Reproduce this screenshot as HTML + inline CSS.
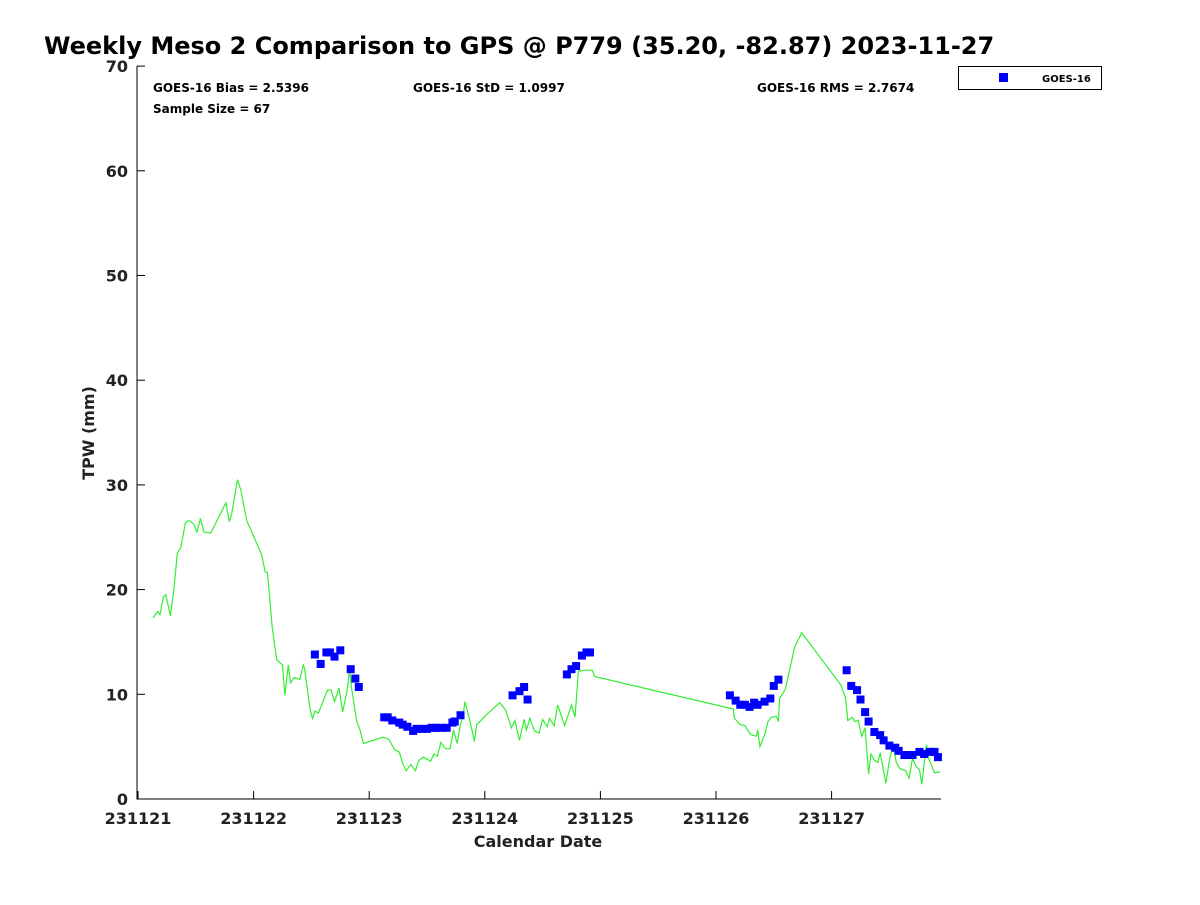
<!DOCTYPE html>
<html><head><meta charset="utf-8"><style>
body{margin:0;background:#fff;}
svg text{font-family:"DejaVu Sans","Liberation Sans",sans-serif;font-weight:bold;}
</style></head><body>
<svg id="chart" width="1200" height="900" xmlns="http://www.w3.org/2000/svg">
<rect width="1200" height="900" fill="#fff"/>
<text x="44" y="54" font-size="24" fill="#000">Weekly Meso 2 Comparison to GPS @ P779 (35.20, -82.87) 2023-11-27</text>
<g id="axes"></g>
<g id="series"></g>
<text x="153" y="92" font-size="12">GOES-16 Bias = 2.5396</text>
<text x="413" y="92" font-size="12">GOES-16 StD = 1.0997</text>
<text x="757" y="92" font-size="12">GOES-16 RMS = 2.7674</text>
<text x="153" y="113" font-size="12">Sample Size = 67</text>
<g>
<rect x="958.5" y="66.5" width="143" height="23" fill="#fff" stroke="#000" stroke-width="1"/>
<rect x="999" y="73" width="9" height="9" fill="#0000ff"/>
<text x="1042" y="82" font-size="10">GOES-16</text>
</g>
<text x="538" y="847" font-size="16" text-anchor="middle" fill="#222">Calendar Date</text>
<text transform="translate(94,433) rotate(-90)" font-size="16" text-anchor="middle" fill="#222">TPW (mm)</text>
</svg>
<script>
const xTickLabels=["231121","231122","231123","231124","231125","231126","231127"];
const yTickValues=[0,10,20,30,40,50,60,70];
const gpsDays=[0.13,0.17,0.19,0.22,0.24,0.28,0.31,0.34,0.37,0.41,0.44,0.48,0.51,0.54,0.57,0.63,0.67,0.76,0.79,0.81,0.86,0.89,0.94,1.07,1.10,1.12,1.16,1.20,1.22,1.25,1.27,1.30,1.32,1.35,1.40,1.43,1.44,1.49,1.51,1.53,1.56,1.60,1.64,1.67,1.70,1.74,1.77,1.81,1.83,1.85,1.89,1.92,1.95,2.12,2.17,2.22,2.26,2.29,2.32,2.36,2.40,2.43,2.47,2.50,2.53,2.56,2.59,2.62,2.66,2.70,2.73,2.76,2.79,2.81,2.83,2.87,2.91,2.93,3.01,3.13,3.18,3.23,3.26,3.30,3.34,3.36,3.39,3.43,3.47,3.50,3.54,3.56,3.60,3.63,3.67,3.69,3.75,3.78,3.81,3.86,3.93,3.95,5.15,5.16,5.21,5.25,5.29,5.31,5.35,5.36,5.38,5.42,5.45,5.48,5.52,5.54,5.55,5.60,5.68,5.73,5.74,6.08,6.12,6.14,6.18,6.20,6.23,6.26,6.29,6.32,6.34,6.37,6.40,6.42,6.47,6.50,6.53,6.56,6.59,6.64,6.67,6.70,6.73,6.76,6.78,6.82,6.84,6.89,6.94];
const gpsValues=[17.3,17.9,17.6,19.3,19.5,17.5,19.9,23.5,24.0,26.4,26.6,26.3,25.5,26.8,25.5,25.4,26.3,28.3,26.5,27.2,30.5,29.5,26.6,23.3,21.7,21.6,16.5,13.3,13.1,12.8,9.9,12.8,11.1,11.6,11.4,12.8,12.5,8.5,7.7,8.4,8.2,9.3,10.4,10.4,9.3,10.6,8.3,10.4,12.3,10.4,7.5,6.6,5.3,5.9,5.7,4.7,4.5,3.4,2.7,3.3,2.7,3.7,4.0,3.8,3.6,4.3,4.1,5.4,4.8,4.8,6.6,5.3,7.1,7.9,9.3,7.5,5.5,7.1,8.0,9.2,8.5,6.8,7.5,5.6,7.6,6.6,7.7,6.5,6.3,7.6,6.9,7.7,7.0,9.0,7.7,7.0,9.0,7.8,12.2,12.3,12.3,11.7,8.6,7.7,7.1,7.0,6.3,6.1,6.0,6.6,5.0,6.1,7.4,7.8,7.9,7.4,9.6,10.5,14.5,15.6,15.9,10.9,9.7,7.5,7.8,7.4,7.5,6.0,6.8,2.4,4.3,3.7,3.5,4.4,1.5,3.7,5.2,3.5,2.9,2.7,2.0,3.9,3.1,2.8,1.4,5.2,3.9,2.5,2.6];
const goesDays=[1.53,1.58,1.63,1.66,1.70,1.75,1.84,1.88,1.91,2.13,2.16,2.20,2.26,2.29,2.33,2.38,2.41,2.46,2.50,2.54,2.58,2.62,2.67,2.72,2.74,2.79,3.24,3.30,3.34,3.37,3.71,3.75,3.79,3.84,3.88,3.91,5.12,5.17,5.21,5.25,5.29,5.33,5.36,5.42,5.47,5.50,5.54,6.13,6.17,6.22,6.25,6.29,6.32,6.37,6.42,6.45,6.50,6.55,6.58,6.63,6.66,6.70,6.76,6.80,6.85,6.89,6.92];
const goesValues=[13.8,12.9,14.0,14.0,13.6,14.2,12.4,11.5,10.7,7.8,7.8,7.5,7.3,7.1,6.9,6.5,6.7,6.7,6.7,6.8,6.8,6.8,6.8,7.3,7.4,8.0,9.9,10.3,10.7,9.5,11.9,12.4,12.7,13.7,14.0,14.0,9.9,9.4,9.0,9.0,8.8,9.2,9.0,9.3,9.6,10.8,11.4,12.3,10.8,10.4,9.5,8.3,7.4,6.4,6.1,5.6,5.1,4.9,4.6,4.2,4.2,4.2,4.5,4.3,4.5,4.5,4.0];
const NS="http://www.w3.org/2000/svg";
const X0=138,DX=115.6,Y0=799,DY=10.47,LEFT=137,RIGHT=941,TOP=66;
function xs(d){return X0+d*DX;}
function ys(v){return Y0-v*DY;}
function mk(tag,attrs,parent){const e=document.createElementNS(NS,tag);for(const k in attrs)e.setAttribute(k,attrs[k]);parent.appendChild(e);return e;}
const axes=document.getElementById('axes'),series=document.getElementById('series');
const frame=mk('path',{d:`M${LEFT} ${TOP} V${Y0} H${RIGHT}`,fill:'none',stroke:'#000','stroke-width':1},axes);


yTickValues.forEach(v=>{
  const t=mk('line',{x1:LEFT,x2:LEFT+8,y1:ys(v),y2:ys(v),stroke:'#000'},axes);
  
  
  const l=mk('text',{x:128,y:ys(v)+6,'font-size':16,'text-anchor':'end',fill:'#222'},axes);
  l.textContent=v;
  
  
});
xTickLabels.forEach((s,i)=>{
  const t=mk('line',{x1:xs(i),x2:xs(i),y1:Y0,y2:Y0-8,stroke:'#000'},axes);
  
  
  const l=mk('text',{x:xs(i),y:824,'font-size':16,'text-anchor':'middle',fill:'#222'},axes);
  l.textContent=s;
  
  
});
const pts=gpsDays.map((d,i)=>xs(d).toFixed(1)+','+ys(gpsValues[i]).toFixed(1)).join(' ');
const line=mk('polyline',{points:pts,fill:'none',stroke:'#33ee33','stroke-width':1.2},series);


goesDays.forEach((d,i)=>{
  const r=mk('rect',{x:xs(d)-4,y:ys(goesValues[i])-4,width:8,height:8,fill:'#0000ff'},series);
  
  
});
</script>
</body></html>
